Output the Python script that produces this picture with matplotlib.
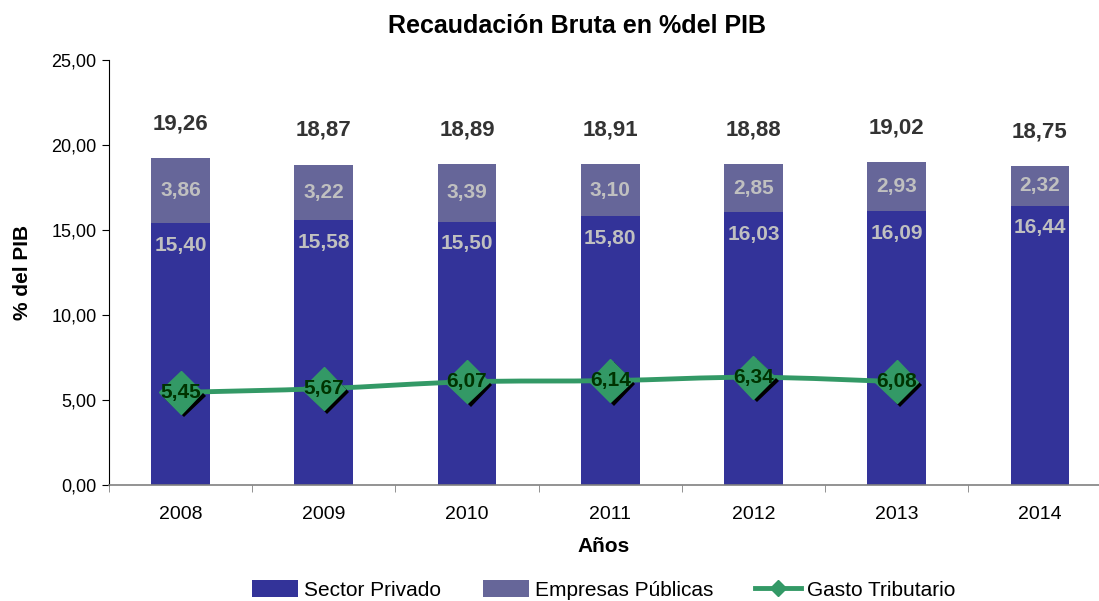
import matplotlib
matplotlib.use("Agg")
import matplotlib.pyplot as plt
import numpy as np
from matplotlib.path import Path
from matplotlib.patches import PathPatch
from matplotlib.lines import Line2D
import matplotlib.patheffects as pe

plt.rcParams['font.family'] = ['Liberation Sans', 'DejaVu Sans']

years = ["2008", "2009", "2010", "2011", "2012", "2013", "2014"]
sector_privado = [15.40, 15.58, 15.50, 15.80, 16.03, 16.09, 16.44]
empresas_publicas = [3.86, 3.22, 3.39, 3.10, 2.85, 2.93, 2.32]
totales = [19.26, 18.87, 18.89, 18.91, 18.88, 19.02, 18.75]
gasto_tributario = [5.45, 5.67, 6.07, 6.14, 6.34, 6.08]

def fmt(v):
    return f"{v:.2f}".replace(".", ",")

W, H = 1099, 601
fig = plt.figure(figsize=(W / 100, H / 100), dpi=100)
ax = fig.add_axes([109 / W, 116 / H, (W - 109) / W, 425 / H])

x = np.arange(len(years))
bw = 0.41
c_priv = "#333399"
c_emp = "#666699"
c_gasto = "#339966"

ax.bar(x, sector_privado, bw, color=c_priv, label="Sector Privado", zorder=2)
ax.bar(x, empresas_publicas, bw, bottom=sector_privado, color=c_emp,
       label="Empresas Públicas", zorder=2)

# Smoothed line (Excel-style bezier through the points)
xg = np.arange(len(gasto_tributario), dtype=float)
yg = np.array(gasto_tributario, dtype=float)
pts = np.column_stack([xg, yg])
verts = [tuple(pts[0])]
codes = [Path.MOVETO]
n = len(pts)
for i in range(n - 1):
    p0 = pts[i - 1] if i > 0 else pts[i]
    p1 = pts[i]
    p2 = pts[i + 1]
    p3 = pts[i + 2] if i + 2 < n else pts[i + 1]
    c1 = p1 + (p2 - p0) / 6.0
    c2 = p2 - (p3 - p1) / 6.0
    verts += [tuple(c1), tuple(c2), tuple(p2)]
    codes += [Path.CURVE4] * 3
ax.add_patch(PathPatch(Path(verts, codes), facecolor="none", edgecolor=c_gasto,
                       lw=3.5, zorder=3, capstyle="round"))
ax.plot(xg, yg, linestyle="none", marker="D", markersize=22, color=c_gasto,
        markeredgecolor=c_gasto, zorder=4,
        path_effects=[pe.SimplePatchShadow(offset=(2.5, -2.5), shadow_rgbFace="black", alpha=1.0),
                      pe.Normal()])

line_handle = Line2D([], [], color=c_gasto, lw=3.5, marker="D", markersize=8,
                     label="Gasto Tributario")

# labels
for i in range(len(years)):
    ax.text(x[i], totales[i] + 2.0, fmt(totales[i]), ha="center", va="center",
            fontsize=16, fontweight="bold", color="#333333", zorder=5)
    ax.text(x[i], sector_privado[i] + empresas_publicas[i] / 2, fmt(empresas_publicas[i]),
            ha="center", va="center", fontsize=15, fontweight="bold", color="#C0C0C0", zorder=5)
    ax.text(x[i], sector_privado[i] - 1.3, fmt(sector_privado[i]),
            ha="center", va="center", fontsize=15, fontweight="bold", color="#C0C0C0", zorder=5)
for i in range(len(gasto_tributario)):
    ax.text(xg[i], yg[i], fmt(gasto_tributario[i]), ha="center", va="center",
            fontsize=15, fontweight="bold", color="#003300", zorder=6)

ax.set_yticks(np.arange(0, 25.01, 5))
ax.set_yticklabels([fmt(v) for v in np.arange(0, 25.01, 5)], fontsize=13)
ax.set_xticks(x)
ax.set_xticklabels(years, fontsize=14)
ax.set_xticks(np.arange(-0.5, len(years) - 1.5 + 0.01, 1), minor=True)
ax.set_ylim(0, 25)
ax.set_xlim(-0.5, (W - 1 - 181) / 143.0)
ax.tick_params(axis="x", which="major", length=0, pad=15)
ax.tick_params(axis="x", which="minor", length=5, color="#808080")
ax.tick_params(axis="y", length=5, color="#000000", pad=4)
for s in ["top", "right"]:
    ax.spines[s].set_visible(False)
ax.spines["left"].set_color("#000000")
ax.spines["bottom"].set_color("#808080")
ax.spines["bottom"].set_linewidth(1.2)

ax.set_ylabel("% del PIB", fontsize=15, fontweight="bold", labelpad=14)
ax.set_xlabel("Años", fontsize=15, fontweight="bold", labelpad=10)
fig.text(577 / W, 1 - 26 / H, "Recaudación Bruta en %del PIB", ha="center", va="center",
         fontsize=18, fontweight="bold")

handles, labels = ax.get_legend_handles_labels()
fig.legend(handles + [line_handle], labels + ["Gasto Tributario"], loc="center",
           bbox_to_anchor=(604 / W, 1 - 590 / H), ncol=3, frameon=False, fontsize=15,
           handlelength=2.2, handleheight=0.9, handletextpad=0.3, columnspacing=2.0)

fig.savefig("out.png", dpi=100)
